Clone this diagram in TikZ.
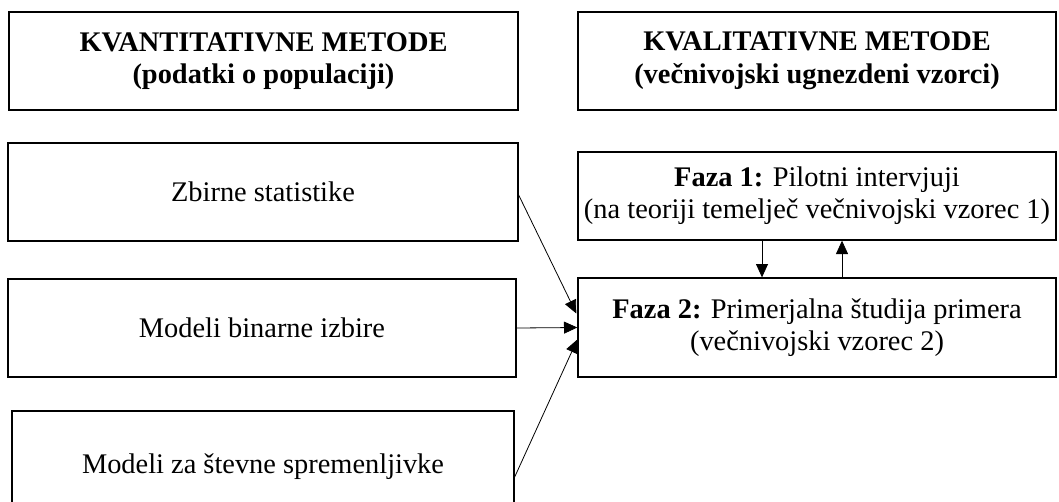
\documentclass[tikz,border=0pt]{standalone}
\usepackage{fontspec}
\setmainfont{Liberation Serif}
\usetikzlibrary{arrows.meta,calc}

\tikzset{
  box/.style={draw, line width=1pt, rectangle, inner sep=0pt, align=center,
    font=\fontsize{21.3}{21.5}\selectfont},
  arr/.style={line width=0.6pt, -{Triangle[length=10pt,width=9pt]}}
}

\begin{document}
\begin{tikzpicture}[x=0.75pt,y=0.75pt,yscale=-1,xscale=1]
\useasboundingbox (0,0) rectangle (1059,501);

% Header boxes
\node [box, minimum width=509*0.75pt, minimum height=98*0.75pt] (kvant) at (263.5,61)
  {\textbf{KVANTITATIVNE METODE}\\[3pt]\textbf{(podatki o populaciji)}};
\node [box, minimum width=478*0.75pt, minimum height=98*0.75pt] (kval) at (817,61)
  {\textbf{KVALITATIVNE METODE}\\[3pt]\textbf{(večnivojski ugnezdeni vzorci)}};

% Quantitative boxes
\node [box, minimum width=510*0.75pt, minimum height=98*0.75pt] (zbirne) at (263,192)
  {Zbirne statistike};
\node [box, minimum width=508*0.75pt, minimum height=98*0.75pt] (binarne) at (262,328)
  {Modeli binarne izbire};
\node [box, minimum width=502*0.75pt, minimum height=112*0.75pt] (stevne) at (263,467)
  {Modeli za števne spremenljivke};

% Qualitative boxes
\node [box, minimum width=478*0.75pt, minimum height=88*0.75pt] (faza1) at (817,196)
  {\textbf{Faza 1:} Pilotni intervjuji\\[2.3pt](na teoriji temelječ večnivojski vzorec 1)};
\node [box, minimum width=478*0.75pt, minimum height=99*0.75pt] (faza2) at (817,327.5)
  {\textbf{Faza 2:} Primerjalna študija primera\\[2.3pt](večnivojski vzorec 2)};

% Arrows
\draw [arr] ($(zbirne.east)+(0,3)$) -- ($(faza2.west)+(-1,-14)$);
\draw [arr] (binarne.east) -- (faza2.west);
\draw [arr] ($(stevne.east)+(0,10)$) -- ($(faza2.west)+(0,12)$);
\draw [arr] ($(faza1.south)+(-55,0)$) -- ($(faza2.north)+(-55,0)$);
\draw [arr] ($(faza2.north)+(25,0)$) -- ($(faza1.south)+(25,0)$);

\end{tikzpicture}
\end{document}
